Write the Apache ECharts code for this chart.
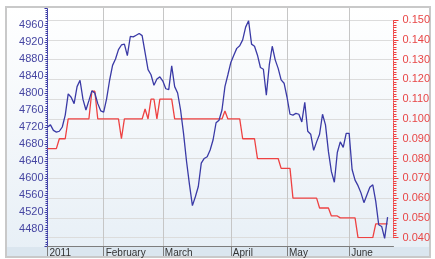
<!DOCTYPE html>
<html lang="en">
<head>
    <meta charset="UTF-8">
    <title>Index and rate, 2011</title>
    <script src="https://cdn.jsdelivr.net/npm/echarts@6/dist/echarts.min.js"></script>
    <style>
        html, body { margin: 0; padding: 0; background: #fff; }
        #main { width: 435px; height: 259px; }
    </style>
</head>
<body>
<div id="main"></div>
<script>
    // trading days, Jan 4 - Jun 22 2011 (weekdays minus market holidays)
    var holidays = ['2011-01-06', '2011-04-22', '2011-04-25', '2011-05-03', '2011-06-23'];
    var monthNames = ['2011', 'February', 'March', 'April', 'May', 'June'];

    function tradingDays(from, to) {
        var out = [];
        var d = new Date(from + 'T00:00:00Z');
        var end = new Date(to + 'T00:00:00Z');
        while (d <= end) {
            var s = d.toISOString().slice(0, 10);
            var wd = d.getUTCDay();
            if (wd !== 0 && wd !== 6 && holidays.indexOf(s) < 0) out.push(s);
            d.setUTCDate(d.getUTCDate() + 1);
        }
        return out;
    }
    var days = tradingDays('2011-01-04', '2011-06-22');

    // index (left axis)
    var indexValues = [
        4720, 4725, 4712, 4708, 4710, 4720, 4748, 4798, 4790, 4775,
        4815, 4830, 4785, 4760, 4782, 4805, 4800, 4775, 4758, 4755,
        4787, 4830, 4865, 4880, 4902, 4913, 4915, 4888, 4933, 4932,
        4936, 4940, 4935, 4895, 4855, 4843, 4818, 4833, 4838, 4828,
        4810, 4808, 4864, 4815, 4800, 4760, 4705, 4640, 4585, 4535,
        4556, 4580, 4635, 4646, 4650, 4666, 4690, 4730, 4736, 4760,
        4815, 4843, 4872, 4889, 4905, 4911, 4925, 4955, 4970, 4915,
        4910, 4889, 4860, 4856, 4795, 4866, 4910, 4878, 4858, 4831,
        4823, 4790, 4750, 4748, 4752, 4750, 4732, 4778, 4710, 4703,
        4665, 4685, 4703, 4750, 4725, 4662, 4615, 4590, 4660, 4685,
        4672, 4705, 4705, 4620, 4595, 4582, 4565, 4542, 4560, 4578,
        4584, 4545, 4490, 4486, 4458, 4508
    ];

    // rate (right axis)
    var rateValues = [
        0.085, 0.085, 0.085, 0.085, 0.090, 0.090, 0.090, 0.100, 0.100, 0.100,
        0.100, 0.100, 0.100, 0.100, 0.100, 0.114, 0.114, 0.100, 0.100, 0.100,
        0.100, 0.100, 0.100, 0.100, 0.100, 0.090, 0.100, 0.100, 0.100, 0.100,
        0.100, 0.100, 0.100, 0.105, 0.100, 0.110, 0.110, 0.100, 0.110, 0.110,
        0.110, 0.110, 0.110, 0.100, 0.100, 0.100, 0.100, 0.100, 0.100, 0.100,
        0.100, 0.100, 0.100, 0.100, 0.100, 0.100, 0.100, 0.100, 0.100, 0.100,
        0.104, 0.100, 0.100, 0.100, 0.100, 0.100, 0.090, 0.090, 0.090, 0.090,
        0.090, 0.080, 0.080, 0.080, 0.080, 0.080, 0.080, 0.080, 0.080, 0.075,
        0.075, 0.075, 0.075, 0.060, 0.060, 0.060, 0.060, 0.060, 0.060, 0.060,
        0.060, 0.060, 0.055, 0.055, 0.055, 0.055, 0.051, 0.051, 0.051, 0.050,
        0.050, 0.050, 0.050, 0.050, 0.050, 0.040, 0.040, 0.040, 0.040, 0.040,
        0.040, 0.047, 0.047, 0.047, 0.047, 0.047
    ];

    function isMonthStart(idx) {
        if (idx === 0) return true;
        return days[idx].slice(5, 7) !== days[idx - 1].slice(5, 7);
    }
    function monthLabel(value) {
        return monthNames[parseInt(value.slice(5, 7), 10) - 1];
    }

    var blue = '#3a3aa6';
    var red = '#ee4242';

    var myChart = echarts.init(document.getElementById('main'));
    var option = {
        animation: false,
        backgroundColor: '#fff',
        graphic: [
            {
                type: 'rect', z: -10,
                shape: { x: 6, y: 7, width: 424, height: 250 },
                style: {
                    fill: new echarts.graphic.LinearGradient(0, 0, 0, 1, [
                        { offset: 0, color: '#ffffff' },
                        { offset: 1, color: '#e7eff6' }
                    ]),
                    stroke: '#c9c9c9', lineWidth: 2
                }
            },
            {
                type: 'rect', z: -9,
                shape: { x: 7, y: 247, width: 422, height: 9 },
                style: { fill: '#dbe6ef' }
            }
        ],
        grid: [
            { left: 47.5, right: 41.5, top: 8, bottom: 13 },
            { left: 47.5, right: 41.5, top: 20, bottom: 21.3 }
        ],
        xAxis: [
            {
                gridIndex: 0,
                type: 'category',
                data: days,
                boundaryGap: false,
                axisLine: { lineStyle: { color: '#7d7d7d', width: 1 } },
                axisTick: {
                    interval: function (idx) { return isMonthStart(idx); },
                    length: 10,
                    lineStyle: { color: '#7d7d7d' }
                },
                axisLabel: {
                    interval: function (idx) { return isMonthStart(idx); },
                    formatter: function (v) { return monthLabel(v); },
                    align: 'left',
                    margin: 2,
                    padding: [0, 0, 0, 2],
                    fontFamily: 'Liberation Sans',
                    fontSize: 10,
                    color: '#333'
                },
                splitLine: {
                    show: true,
                    interval: function (idx) { return isMonthStart(idx); },
                    lineStyle: { color: '#c6c6c6', width: 1 }
                }
            },
            {
                gridIndex: 1,
                type: 'category',
                data: days,
                boundaryGap: false,
                show: false
            }
        ],
        yAxis: [
            {
                gridIndex: 0,
                type: 'value',
                position: 'left',
                min: 4440,
                max: 5000,
                interval: 40,
                axisLine: { show: true, lineStyle: { color: blue, type: 'dotted', width: 1 } },
                axisTick: { show: true, length: 3, lineStyle: { color: blue } },
                minorTick: { show: true, splitNumber: 8, length: 2, lineStyle: { color: blue } },
                axisLabel: {
                    margin: 4,
                    showMinLabel: false,
                    showMaxLabel: false,
                    formatter: function (v) { return String(v); },
                    fontFamily: 'Liberation Sans',
                    fontSize: 11,
                    color: '#4646a2'
                },
                splitLine: { show: false }
            },
            {
                gridIndex: 1,
                type: 'value',
                position: 'right',
                min: 0.04,
                max: 0.15,
                interval: 0.01,
                axisLine: { show: true, lineStyle: { color: red, type: 'dotted', width: 1 } },
                axisTick: { show: true, length: 5, lineStyle: { color: red } },
                minorTick: { show: true, splitNumber: 8, length: 3, lineStyle: { color: red } },
                axisLabel: {
                    margin: 9,
                    formatter: function (v) { return v.toFixed(3); },
                    fontFamily: 'Liberation Sans',
                    fontSize: 11,
                    color: '#e84646'
                },
                splitLine: { show: true, lineStyle: { color: '#dcdcdc', width: 1 } }
            }
        ],
        series: [
            {
                name: 'rate',
                type: 'line',
                xAxisIndex: 1,
                yAxisIndex: 1,
                data: rateValues,
                showSymbol: false,
                z: 3,
                lineStyle: { color: red, width: 1.3 }
            },
            {
                name: 'index',
                type: 'line',
                xAxisIndex: 0,
                yAxisIndex: 0,
                data: indexValues,
                showSymbol: false,
                z: 4,
                lineStyle: { color: blue, width: 1.3 }
            }
        ]
    };
    myChart.setOption(option);
</script>
</body>
</html>
